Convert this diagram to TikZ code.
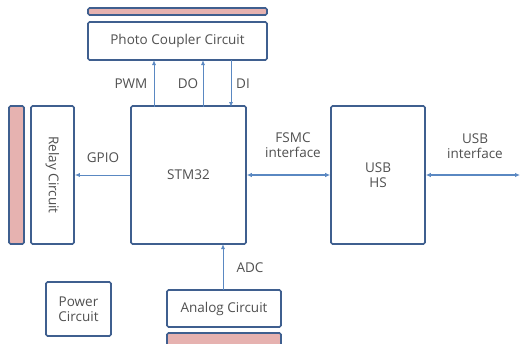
\documentclass[tikz,border=0pt]{standalone}
\usepackage{fontspec}
\setmainfont{Open Sans}
\usetikzlibrary{arrows.meta}
\definecolor{bordc}{HTML}{3F5F8F}
\definecolor{barc}{HTML}{E6B2B0}
\definecolor{linec}{HTML}{5A88C2}
\definecolor{txtc}{HTML}{505050}
\tikzset{
  blk/.style={draw=bordc, line width=1.6pt, rounded corners=1.5pt, fill=white, inner sep=0pt, text=txtc, font=\fontsize{13.5}{15.5}\selectfont, align=center},
  bar/.style={draw=bordc, line width=1.6pt, rounded corners=1.5pt, fill=barc, inner sep=0pt},
  sig/.style={draw=linec, line width=0.9pt, -{Latex[length=5pt,width=4pt]}},
  bisig/.style={draw=linec, line width=1.2pt, {Latex[length=5pt,width=4.5pt]}-{Latex[length=5pt,width=4.5pt]}},
  lbl/.style={text=txtc, font=\fontsize{13.5}{15}\selectfont, align=center, inner sep=0pt}
}
\begin{document}
\begin{tikzpicture}[x=1pt,y=-1pt]
\useasboundingbox (0,0) rectangle (522,343);
% blocks
\node[bar, minimum width=179pt, minimum height=7pt] (pbar) at (177.5,11.5) {};
\node[blk, minimum width=179pt, minimum height=38pt] (photo) at (177.5,41) {Photo Coupler Circuit};
\node[blk, minimum width=115pt, minimum height=138pt] (stm) at (188.5,175) {STM32};
\node[blk, minimum width=94pt, minimum height=138pt] (usb) at (378,175) {USB\\HS};
\node[bar, minimum width=15pt, minimum height=138pt] (rbar) at (16.5,175) {};
\node[blk, minimum width=43pt, minimum height=138pt] (relay) at (52.5,175) {};
\node[lbl, rotate=-90] (relaytxt) at (relay.center) {Relay Circuit};
\node[blk, minimum width=65pt, minimum height=54pt] (power) at (78.5,309) {Power\\Circuit};
\node[blk, minimum width=114pt, minimum height=37pt] (analog) at (224,308.5) {Analog Circuit};
\node[bar, minimum width=114pt, minimum height=14pt] (abar) at (224,340) {};
% coordinates for connectors
\coordinate (pwmb) at (154,107);
\coordinate (pwmt) at (154,60);
\coordinate (dob) at (203,107);
\coordinate (dot) at (203,60);
\coordinate (dib) at (231,107);
\coordinate (dit) at (231,60);
\coordinate (adcb) at (223,290);
\coordinate (adct) at (223,244);
\coordinate (usbend) at (520,175);
% connectors
\draw[sig] (pwmb) -- (pwmt);
\draw[sig] (dob) -- (dot);
\draw[sig] (dit) -- (dib);
\draw[sig] (stm.west) -- (relay.east);
\draw[sig] (adcb) -- (adct);
\draw[bisig] (stm.east) -- (usb.west);
\draw[bisig] (usb.east) -- (usbend);
% labels
\node[lbl] (lpwm) at (131,84) {PWM};
\node[lbl] (ldo) at (188,84) {DO};
\node[lbl] (ldi) at (243,84) {DI};
\node[lbl] (lgpio) at (103,158) {GPIO};
\node[lbl] (lfsmc) at (293,145) {FSMC\\interface};
\node[lbl] (lusb) at (475,146) {USB\\interface};
\node[lbl] (ladc) at (250,268) {ADC};
\end{tikzpicture}
\end{document}
